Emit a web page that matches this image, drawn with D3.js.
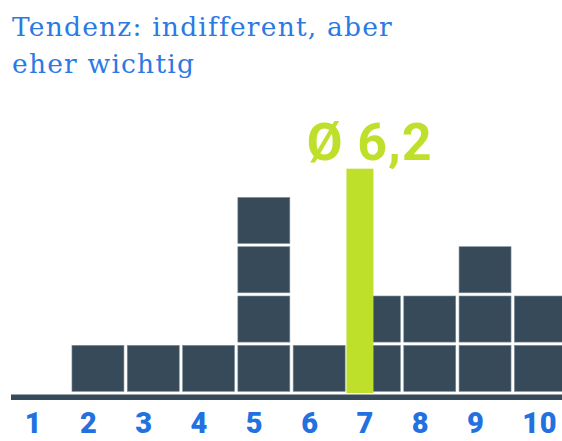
<!DOCTYPE html>
<html>
<head>
<meta charset="utf-8">
<script src="https://cdn.jsdelivr.net/npm/d3@7"></script>
<style>
  body { margin: 0; background: #ffffff; }
  svg { display: block; }
</style>
</head>
<body>
<div id="chart"></div>
<script>
// answers per rating (1..10)
const ratings = ["1", "2", "3", "4", "5", "6", "7", "8", "9", "10"];
const counts = [0, 1, 1, 1, 4, 1, 2, 2, 3, 2];
const titleLines = ["Tendenz: indifferent, aber", "eher wichtig"];
// mean marker
const meanLabel = "Ø 6,2";
const meanColumn = "7";
const meanHeight = 4.55;

const width = 562;
const height = 441;

const svg = d3.select("#chart")
    .append("svg")
    .attr("width", width)
    .attr("height", height);

// scales
const xScale = d3.scaleBand()
    .domain(ratings)
    .range([15, 568])
    .paddingInner(0.06)
    .paddingOuter(0.03);

const yScale = d3.scaleLinear()
    .domain([0, 5])
    .range([393, 146.5]);

// title
svg.selectAll(".title")
    .data(titleLines)
    .join("text")
    .attr("class", "title")
    .attr("x", 12)
    .attr("y", (d, i) => 36 + i * 36.7)
    .attr("fill", "#2b7ae4")
    .style("font-family", "'DejaVu Serif', serif")
    .style("font-size", "26.5px")
    .style("letter-spacing", "1.2px")
    .text(d => d);

// one square per answer
const cells = [];
ratings.forEach((r, i) => {
    for (let k = 0; k < counts[i]; k++) cells.push({rating: r, k: k});
});

svg.selectAll(".cell")
    .data(cells)
    .join("rect")
    .attr("class", "cell")
    .attr("x", d => xScale(d.rating))
    .attr("y", d => yScale(d.k + 1) + 1.6)
    .attr("width", xScale.bandwidth())
    .attr("height", d => yScale(d.k) - yScale(d.k + 1) - 3.2)
    .attr("fill", "#364a59")
    .attr("stroke", "#7f8f9c")
    .attr("stroke-width", 0.6);

// mean bar
const meanX = xScale(meanColumn) - 2;
svg.append("rect")
    .attr("x", meanX)
    .attr("y", yScale(meanHeight))
    .attr("width", xScale.bandwidth() / 2 + 1)
    .attr("height", yScale(0) - yScale(meanHeight))
    .attr("fill", "#bfe02b");

svg.append("text")
    .attr("x", meanX - 40)
    .attr("y", 160)
    .attr("fill", "#bfe02b")
    .style("font-family", "Roboto, sans-serif")
    .style("font-weight", 700)
    .style("font-size", "52px")
    .style("letter-spacing", "1px")
    .text(meanLabel);

// baseline
svg.append("rect")
    .attr("x", 11)
    .attr("y", 394.5)
    .attr("width", width - 11)
    .attr("height", 5.5)
    .attr("fill", "#364a59");

// rating labels
svg.selectAll(".tick-label")
    .data(ratings)
    .join("text")
    .attr("class", "tick-label")
    .attr("x", d => xScale(d) + 8)
    .attr("y", 433)
    .attr("fill", "#2371e1")
    .style("font-family", "Roboto, sans-serif")
    .style("font-weight", 900)
    .style("font-size", "29px")
    .style("letter-spacing", "0.5px")
    .text(d => d);
</script>
</body>
</html>
